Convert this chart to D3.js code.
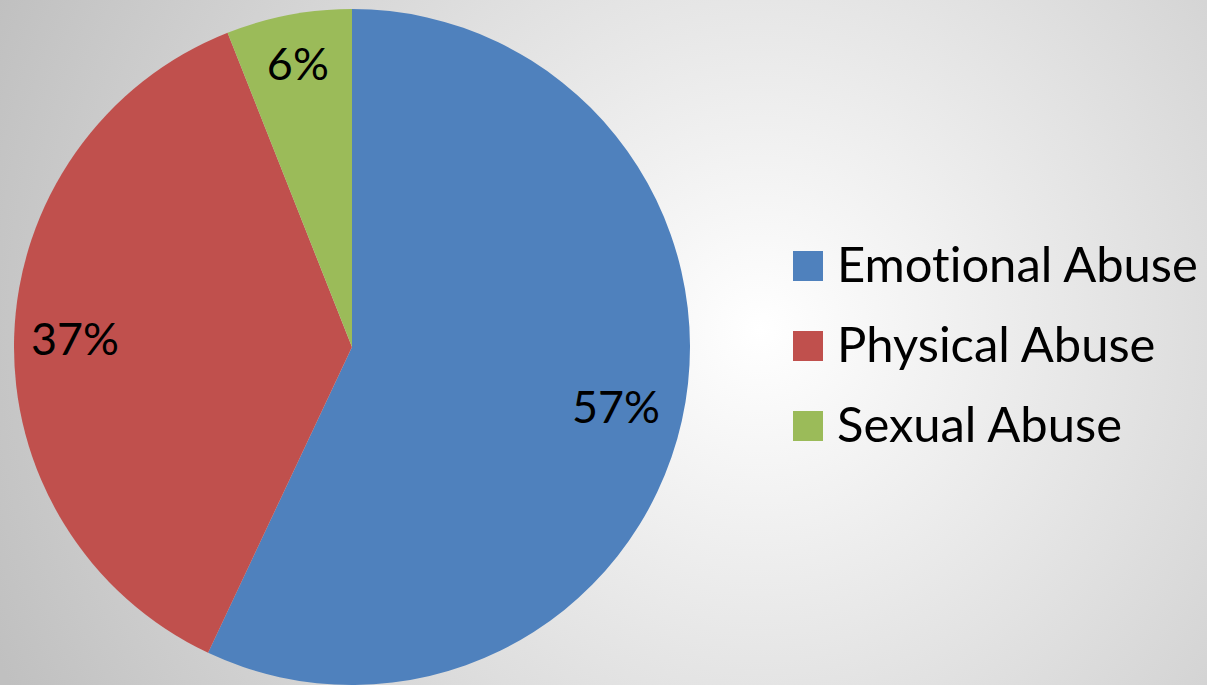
<!DOCTYPE html>
<html>
<head>
<meta charset="utf-8">
<script src="https://cdn.jsdelivr.net/npm/d3@7"></script>
<style>
  body { margin: 0; overflow: hidden; }
  svg { display: block; }
  text { font-family: Lato, "Open Sans", sans-serif; fill: #000; font-variant-ligatures: none; }
</style>
</head>
<body>
<svg width="1207" height="685"></svg>
<script>
// ---- data ----
var categories = ["Emotional Abuse", "Physical Abuse", "Sexual Abuse"];
var values = [57, 37, 6];
var colours = ["#4F81BD", "#C0504D", "#9BBB59"];

var svg = d3.select("svg"),
  width = +svg.attr("width"),
  height = +svg.attr("height");

// background: soft radial grey gradient
var defs = svg.append("defs");
var grad = defs.append("radialGradient")
  .attr("id", "bg")
  .attr("gradientUnits", "userSpaceOnUse")
  .attr("cx", 760).attr("cy", 330).attr("r", 830);
grad.append("stop").attr("offset", "0").attr("stop-color", "#ffffff");
grad.append("stop").attr("offset", "1").attr("stop-color", "#c0c0c0");

svg.append("rect")
  .attr("width", width)
  .attr("height", height)
  .attr("fill", "url(#bg)");

// pie
var cx = 352, cy = 347, radius = 338;

var pie = d3.pie().sort(null).value(function(d) { return d; });
var arcs = pie(values);

var arc = d3.arc().innerRadius(0).outerRadius(radius);

// label distance from centre (fraction of radius), roughly like excel's best fit
var labelFrac = [0.80, 0.82, 0.855];

var g = svg.append("g").attr("transform", "translate(" + cx + "," + cy + ")");

g.selectAll("path")
  .data(arcs)
  .enter()
  .append("path")
  .attr("d", arc)
  .attr("fill", function(d, i) { return colours[i]; });

// percentage labels
var labels = g.selectAll("text.pct")
  .data(arcs)
  .enter()
  .append("text")
  .attr("class", "pct")
  .attr("text-anchor", "middle")
  .attr("dominant-baseline", "central")
  .attr("transform", function(d, i) {
    var r = radius * labelFrac[i];
    return "translate(" + d3.arc().innerRadius(r).outerRadius(r).centroid(d) + ")";
  })
  .style("font-size", "48px")
  .text(function(d) { return d.value + "%"; });

// fit label size so "37%" is about 88px wide
var probe = labels.nodes()[1];
var lblSize = 48 * 88 / probe.getComputedTextLength();
labels.style("font-size", lblSize + "px");

// legend
var legend = svg.append("g").attr("transform", "translate(793,251)");
var rowGap = 80;

var items = legend.selectAll("g")
  .data(categories)
  .enter()
  .append("g")
  .attr("transform", function(d, i) { return "translate(0," + (i * rowGap) + ")"; });

items.append("rect")
  .attr("width", 30)
  .attr("height", 30)
  .attr("fill", function(d, i) { return colours[i]; });

var legText = items.append("text")
  .attr("x", 44)
  .attr("y", 31)
  .style("font-size", "42px")
  .text(function(d) { return d; });

// fit legend font so "Emotional Abuse" spans ~361px
var legSize = 42 * 361 / legText.nodes()[0].getComputedTextLength();
legText.style("font-size", legSize + "px");
</script>
</body>
</html>
